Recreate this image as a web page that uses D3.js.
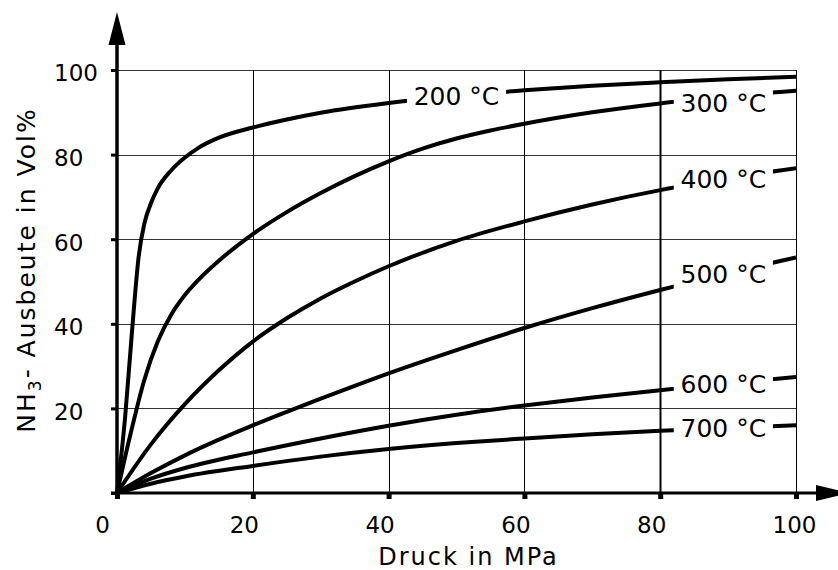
<!DOCTYPE html>
<html>
<head>
<meta charset="utf-8">
<script src="https://cdn.jsdelivr.net/npm/d3@7"></script>
<style>
  body { margin: 0; background: #fff; }
  text { font-family: "DejaVu Sans", sans-serif; fill: #000; }
</style>
</head>
<body>
<div id="chart"></div>
<script>
// Werte
const druckTicks = [0, 20, 40, 60, 80, 100];
const ausbeuteTicks = [20, 40, 60, 80, 100];
const temperaturen = ['200 °C', '300 °C', '400 °C', '500 °C', '600 °C', '700 °C'];

const druck200 = [0, 1.2, 2.2, 3.2, 4, 5, 6, 8, 10, 12, 15, 20, 25, 30, 40, 50, 60, 70, 80, 90, 100];
const ausbeute200 = [0, 18, 38, 56, 63.5, 68.5, 72, 76.3, 79.3, 81.6, 84, 86.4, 88.3, 89.9, 92.2, 93.9, 95.2, 96.3, 97.1, 97.8, 98.4];

const druck300 = [0, 2, 4, 6, 8, 10, 12, 15, 20, 25, 30, 35, 40, 45, 50, 55, 60, 70, 80, 90, 100];
const ausbeute300 = [0, 14, 26.6, 35.8, 42.2, 46.8, 50.4, 54.9, 61.2, 66.4, 70.9, 74.9, 78.4, 81.4, 83.8, 85.7, 87.3, 90, 92.1, 93.8, 95.1];

const druck400 = [0, 5, 10, 15, 20, 25, 30, 35, 40, 50, 60, 70, 80, 90, 100];
const ausbeute400 = [0, 11.5, 21, 29, 35.8, 41.3, 46, 50, 53.6, 59.6, 64.2, 68.2, 71.6, 74.4, 76.8];

const druck500 = [0, 5, 10, 15, 20, 25, 30, 40, 50, 60, 70, 80, 90, 100];
const ausbeute500 = [0, 4.7, 8.9, 12.6, 16, 19.2, 22.3, 28.3, 33.8, 39, 43.7, 48, 52, 55.7];

const druck600 = [0, 5, 10, 20, 30, 40, 50, 60, 70, 80, 90, 100];
const ausbeute600 = [0, 3.4, 5.9, 9.6, 12.9, 15.9, 18.5, 20.7, 22.6, 24.3, 25.9, 27.4];

const druck700 = [0, 5, 10, 20, 30, 40, 50, 60, 70, 80, 90, 100];
const ausbeute700 = [0, 2.2, 3.9, 6.4, 8.6, 10.4, 11.8, 12.9, 13.9, 14.7, 15.4, 16];

// Lücke in der Kurve für die Beschriftung (in MPa)
const lueckeVon = [42.7, 82, 82, 82, 82, 82];
const lueckeBis = [57.3, 96.6, 96.6, 96.6, 96.6, 96.6];

const kurven = [
  [druck200, ausbeute200], [druck300, ausbeute300], [druck400, ausbeute400],
  [druck500, ausbeute500], [druck600, ausbeute600], [druck700, ausbeute700]
].map(([xs, ys], i) => ({
  name: temperaturen[i],
  von: lueckeVon[i],
  bis: lueckeBis[i],
  punkte: xs.map((x, j) => ({x: x, y: ys[j]}))
}));

const width = 838, height = 570;
const margin = {top: 70, right: 42, bottom: 77, left: 117};

const svg = d3.select('#chart').append('svg')
  .attr('width', width)
  .attr('height', height);

const x = d3.scaleLinear().domain([0, 100]).range([margin.left, width - margin.right]);
const y = d3.scaleLinear().domain([0, 100]).range([height - margin.bottom, margin.top]);

// Gitter
svg.append('g').selectAll('line')
  .data(ausbeuteTicks)
  .join('line')
  .attr('x1', x(0)).attr('x2', x(100))
  .attr('y1', d => Math.round(y(d)) + 0.5).attr('y2', d => Math.round(y(d)) + 0.5)
  .attr('stroke', '#333')
  .attr('stroke-width', 1);

svg.append('g').selectAll('line')
  .data(druckTicks.filter(d => d > 0))
  .join('line')
  .attr('x1', d => Math.round(x(d)) + 0.5).attr('x2', d => Math.round(x(d)) + 0.5)
  .attr('y1', y(100)).attr('y2', y(0))
  .attr('stroke', '#000')
  .attr('stroke-width', d => d === 80 ? 2 : 1);

// Kurven
const line = d3.line()
  .x(d => x(d.x))
  .y(d => y(d.y))
  .curve(d3.curveMonotoneX);

const defs = svg.append('defs');
kurven.forEach((k, i) => {
  const clip = defs.append('clipPath').attr('id', 'clip' + i);
  clip.append('rect')
    .attr('x', x(0) - 10).attr('y', 0)
    .attr('width', x(k.von) - x(0) + 10).attr('height', height);
  clip.append('rect')
    .attr('x', x(k.bis)).attr('y', 0)
    .attr('width', x(100) - x(k.bis)).attr('height', height);
});

svg.append('g').selectAll('path')
  .data(kurven)
  .join('path')
  .attr('clip-path', (d, i) => `url(#clip${i})`)
  .attr('d', d => line(d.punkte))
  .attr('fill', 'none')
  .attr('stroke', '#000')
  .attr('stroke-width', 4);

// Beschriftung der Kurven
function wertBei(punkte, xv) {
  const i = d3.bisector(d => d.x).left(punkte, xv);
  const a = punkte[i - 1], b = punkte[i];
  return a.y + (b.y - a.y) * (xv - a.x) / (b.x - a.x);
}

svg.append('g').selectAll('text')
  .data(kurven)
  .join('text')
  .attr('x', d => x((d.von + d.bis) / 2))
  .attr('y', d => y(wertBei(d.punkte, (d.von + d.bis) / 2)) + (d.name === '300 °C' ? 6 : 0))
  .attr('dy', '0.36em')
  .attr('text-anchor', 'middle')
  .style('font-size', '25px')
  .text(d => d.name);

// Achsen
const xAxis = svg.append('g')
  .attr('transform', `translate(0,${y(0)})`)
  .call(d3.axisBottom(x).tickValues(druckTicks).tickSize(6).tickPadding(18));
xAxis.select('.domain').remove();
xAxis.selectAll('.tick line').attr('stroke-width', 5);
xAxis.selectAll('.tick text')
  .attr('dx', d => d === 0 ? -15 : d === 100 ? -2 : -9)
  .style('font-size', '23px');

const yAxis = svg.append('g')
  .attr('transform', `translate(${x(0)},0)`)
  .call(d3.axisLeft(y).tickValues([0].concat(ausbeuteTicks)).tickSize(6));
yAxis.select('.domain').remove();
yAxis.selectAll('.tick line').attr('stroke-width', 3);
yAxis.selectAll('.tick text')
  .attr('text-anchor', 'start')
  .attr('x', -63)
  .attr('dy', '0.47em')
  .style('font-size', '23px')
  .text(d => d === 0 ? '' : d);

// Achsenlinien mit Pfeilen
svg.append('line')
  .attr('x1', x(0) - 6).attr('x2', x(100) + 21)
  .attr('y1', y(0)).attr('y2', y(0))
  .attr('stroke', '#000').attr('stroke-width', 3);
svg.append('path')
  .attr('d', `M${x(100) + 20},${y(0) - 8}L${x(100) + 20},${y(0) + 8}L${x(100) + 54},${y(0)}Z`)
  .attr('fill', '#000');

svg.append('line')
  .attr('x1', x(0)).attr('x2', x(0))
  .attr('y1', y(0) + 6).attr('y2', y(100) - 26)
  .attr('stroke', '#000').attr('stroke-width', 3.5);
svg.append('path')
  .attr('d', `M${x(0) - 8.5},${y(100) - 25}L${x(0) + 8.5},${y(100) - 25}L${x(0)},${y(100) - 58}Z`)
  .attr('fill', '#000');

// Achsentitel
svg.append('text')
  .attr('x', (x(0) + x(100)) / 2 + 12)
  .attr('y', 565)
  .attr('text-anchor', 'middle')
  .style('font-size', '24px')
  .style('letter-spacing', '2px')
  .text('Druck in MPa');

const yTitel = svg.append('text')
  .attr('transform', 'translate(35,270) rotate(-90)')
  .attr('text-anchor', 'middle')
  .style('font-size', '25px')
  .style('letter-spacing', '2px');
yTitel.append('tspan').text('NH');
yTitel.append('tspan').attr('dy', 6).style('font-size', '17px').text('3');
yTitel.append('tspan').attr('dy', -6).text('- Ausbeute in Vol%');
</script>
</body>
</html>
